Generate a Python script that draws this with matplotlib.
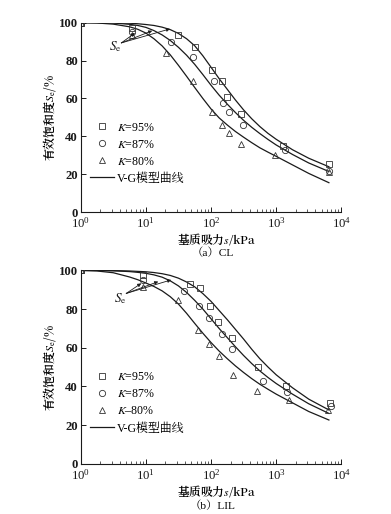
import numpy as np
import matplotlib
matplotlib.use('Agg')
import matplotlib.pyplot as plt
from matplotlib.lines import Line2D

plt.rcParams['font.family'] = ['Liberation Serif', 'Noto Serif CJK JP', 'Noto Sans CJK SC']
plt.rcParams['mathtext.fontset'] = 'stix'

# ---- (a) CL : measured points
cl_s95 = [1, 6.1, 31.6, 57, 103, 145, 179, 287, 1260, 6450]
cl_se95 = [100, 97, 93.4, 87, 75, 69, 61, 52, 35, 25.5]
cl_s87 = [1, 6.1, 24, 52, 113, 153, 190, 308, 1374, 6450]
cl_se87 = [100, 95, 90, 82, 69.3, 57.8, 53, 46, 33, 22]
cl_s80 = [1, 6.1, 20.7, 52, 104, 150, 188, 293, 955, 6450]
cl_se80 = [100, 93.5, 84, 69, 52.8, 46, 42, 36, 30, 21.5]

# ---- V-G curves (same suction grid for every curve)
curve_s = [1, 1.78, 3.16, 5.62, 7.5, 10, 13.3, 17.8, 23.7, 31.6, 42.2, 56.2, 75,
           100, 133, 178, 237, 316, 422, 562, 750, 1000, 1778, 3162, 6450]
cl_c95 = [100, 100, 99.9, 99.7, 99.4, 99, 98.5, 97.6, 96.3, 94.3, 91.5, 87.8, 82.5,
          76.5, 70.5, 64.8, 59.2, 54, 49.3, 45.2, 41.6, 38.5, 33, 28.5, 24]
cl_c87 = [100, 99.97, 99.8, 99.1, 98.5, 97.5, 95.8, 93.5, 90.6, 87, 82.8, 78, 72.6,
          67, 61.8, 57, 52.6, 48.5, 44.8, 41.5, 38.4, 35.5, 30.5, 26, 21.5]
cl_c80 = [100, 99.8, 99.2, 97.8, 96.5, 94.5, 91.5, 87.7, 83, 77.5, 71.7, 65.8, 60,
          54.5, 49.8, 46, 42.6, 39.6, 36.7, 34, 31.7, 29.5, 25, 20.5, 15.6]

# ---- (b) LIL : measured points
lil_s95 = [1, 9.2, 47.8, 68, 97, 130, 209, 524, 1410, 6600]
lil_se95 = [100, 97.4, 93, 90.8, 81.7, 73.3, 65, 50, 40, 31.5]
lil_s87 = [1, 9.2, 39, 66.5, 94, 147, 213, 624, 1462, 6920]
lil_se87 = [100, 95, 89.1, 81.7, 75.3, 67.2, 59.1, 42.9, 37.1, 29.8]
lil_s80 = [1, 9.2, 31.6, 64, 94, 135, 221, 505, 1567, 6350]
lil_se80 = [100, 91.6, 84.8, 69.3, 61.7, 55.8, 46, 37.7, 32.8, 27.7]

lil_c95 = [100, 100, 99.9, 99.7, 99.5, 99.3, 98.9, 98.3, 97.4, 96, 94, 91.5, 88,
           84, 79.3, 74.5, 69.5, 64.5, 59.2, 54.3, 50, 46, 39.3, 33.4, 27.8]
lil_c87 = [100, 99.97, 99.8, 99.4, 99, 98.5, 97.7, 96.5, 94.6, 92, 88.6, 84.5, 80,
           75, 70, 65.2, 60.5, 56, 51.8, 48, 44.6, 41.5, 36, 31, 26]
lil_c80 = [100, 99.7, 98.8, 96.6, 95.2, 93.5, 91.7, 89.4, 86.4, 82.6, 77.8, 72.6, 67.5,
           62.7, 58.3, 54.3, 50.6, 47.2, 44, 41.1, 38.5, 36, 31.5, 27, 22.6]

# Se annotation: label position, arrow start, arrow tips
cl_se_label = (3.4, 87.4)
cl_arrow_from = (4.2, 89.3)
cl_arrow_to = [(6.8, 94.5), (12.5, 95.7), (23.5, 96.7)]
lil_se_label = (4.0, 85.5)
lil_arrow_from = (5.0, 88.1)
lil_arrow_to = [(8.5, 93.3), (15.5, 94.2), (24.5, 95.1)]

legend_labels_a = ['$K$=95%', '$K$=87%', '$K$=80%', 'V-G模型曲线']
legend_labels_b = ['$K$=95%', '$K$=87%', '$K$–80%', 'V-G模型曲线']

ink = '#1a1a1a'
cjk = 'Noto Serif CJK JP'   # mathtext strings need one family that has the CJK glyphs
mk = dict(linestyle='none', markerfacecolor='none', markeredgecolor='#333333',
          markeredgewidth=0.6, markersize=4.5)


def draw_panel(ax, pts, curves, se_label, arrow_from, arrow_to, labels, caption, lab_y, cap_y):
    for c in curves:
        ax.plot(curve_s, c, color=ink, lw=0.9)
    for (s, se), m in zip(pts, ['s', 'o', '^']):
        ax.plot(s, se, marker=m, **mk)

    ax.set_xscale('log')
    ax.set_xlim(1, 1e4)
    ax.set_ylim(0, 100)
    ax.set_yticks([0, 20, 40, 60, 80, 100])
    ax.spines['top'].set_visible(False)
    ax.spines['right'].set_visible(False)
    for sp in ['left', 'bottom']:
        ax.spines[sp].set_linewidth(0.8)
        ax.spines[sp].set_color(ink)
    ax.tick_params(which='major', direction='in', length=3.5, width=0.7,
                   labelsize=9.2, colors=ink, pad=2)
    ax.tick_params(axis='x', which='major', pad=3)
    ax.tick_params(which='minor', direction='in', length=2, width=0.5, colors=ink)
    ax.tick_params(axis='y', which='minor', left=False)
    for t in ax.get_yticklabels():
        t.set_fontweight('bold')

    ax.set_ylabel('有效饱和度$S_\\mathrm{e}$/%', fontsize=8.6, family=cjk,
                  fontweight='semibold')
    ax.yaxis.set_label_coords(-0.118, 0.5)
    ax.yaxis.label.set_va('center')
    ax.set_xlabel('基质吸力$s$/kPa', fontsize=8.4, family=cjk, fontweight='semibold')
    ax.xaxis.set_label_coords(0.522, lab_y)
    ax.xaxis.label.set_va('center')
    ax.text(0.506, cap_y, caption, transform=ax.transAxes, ha='center',
            va='center', fontsize=8.2)

    ax.text(se_label[0], se_label[1], '$S_\\mathrm{e}$', fontsize=9.5,
            ha='center', va='center', color=ink)
    for tip in arrow_to:
        ax.annotate('', xy=tip, xytext=arrow_from,
                    arrowprops=dict(arrowstyle='-|>', lw=0.6, color=ink,
                                    mutation_scale=5, shrinkA=0, shrinkB=0))

    handles = [Line2D([], [], marker='s', **mk),
               Line2D([], [], marker='o', **mk),
               Line2D([], [], marker='^', **mk),
               Line2D([], [], color=ink, lw=0.9)]
    ax.legend(handles, labels, loc='upper left', bbox_to_anchor=(0.035, 0.478),
              frameon=False, fontsize=8.6, handlelength=2.0, handletextpad=0.3,
              labelspacing=0.42, borderpad=0, borderaxespad=0)


fig = plt.figure(figsize=(3.91, 5.14), dpi=100)
ax1 = fig.add_axes([0.2064, 0.587, 0.6665, 0.369])
ax2 = fig.add_axes([0.2064, 0.0979, 0.6665, 0.376])

draw_panel(ax1, [(cl_s95, cl_se95), (cl_s87, cl_se87), (cl_s80, cl_se80)],
           [cl_c95, cl_c87, cl_c80], cl_se_label, cl_arrow_from, cl_arrow_to,
           legend_labels_a, '（a）CL', -0.14, -0.215)
draw_panel(ax2, [(lil_s95, lil_se95), (lil_s87, lil_se87), (lil_s80, lil_se80)],
           [lil_c95, lil_c87, lil_c80], lil_se_label, lil_arrow_from, lil_arrow_to,
           legend_labels_b, '（b）LIL', -0.14, -0.219)

fig.savefig('out.png', dpi=100)
